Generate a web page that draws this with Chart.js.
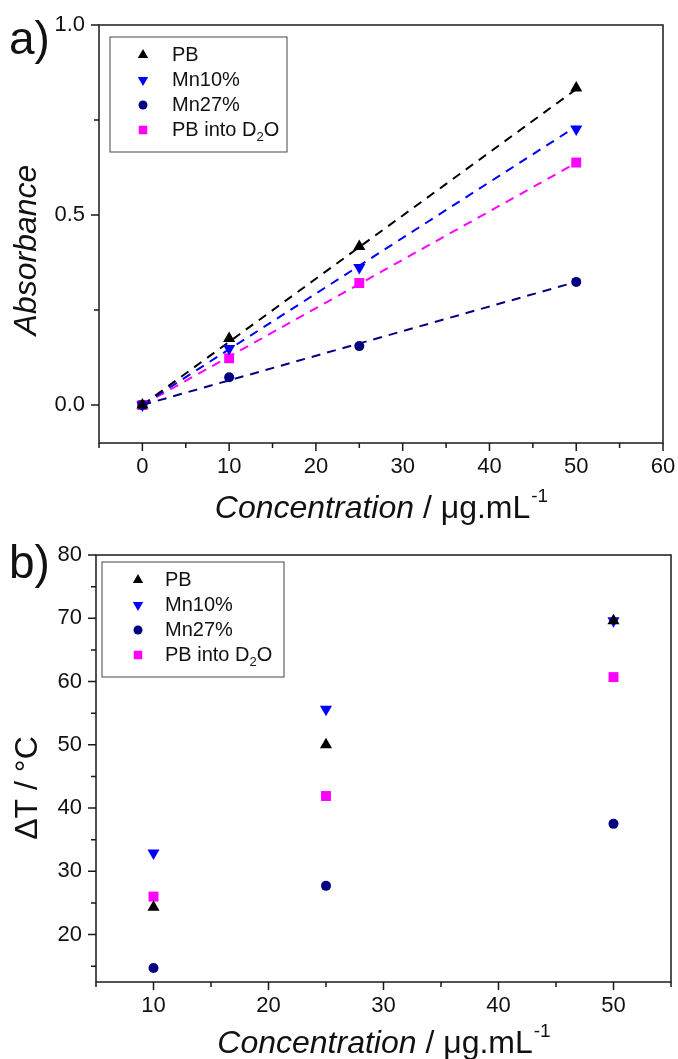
<!DOCTYPE html>
<html>
<head>
<meta charset="utf-8">
<script src="https://cdn.jsdelivr.net/npm/chart.js@4.4.0/dist/chart.umd.min.js"></script>
<style>
  body { margin: 0; background: #fff; }
  canvas { display: block; }
</style>
</head>
<body>
<canvas id="chartA" width="678" height="530"></canvas>
<canvas id="chartB" width="678" height="529"></canvas>
<script>
// ---- data ----
const seriesNames = ['PB', 'Mn10%', 'Mn27%', 'PB into D2O'];

// a) absorbance vs concentration
const concA = [0, 10, 25, 50];
const absPB = [0, 0.175, 0.417, 0.834];
const absMn10 = [0, 0.149, 0.362, 0.726];
const absMn27 = [0, 0.073, 0.155, 0.324];
const absD2O = [0, 0.123, 0.321, 0.638];

// dashed linear fits (end points)
const fitX = [0, 50];
const fitPB = [0, 0.831];
const fitMn10 = [0, 0.733];
const fitMn27 = [0, 0.324];
const fitD2O = [0, 0.637];

// b) temperature rise vs concentration
const concB = [10, 25, 50];
const dtPB = [24.3, 50.0, 69.6];
const dtMn10 = [32.9, 55.6, 69.6];
const dtMn27 = [14.7, 27.7, 37.5];
const dtD2O = [26.0, 41.9, 60.7];

// tick values (majors get labels, the rest are minor ticks)
const xTicksA = [-5, 0, 5, 10, 15, 20, 25, 30, 35, 40, 45, 50, 55, 60];
const yTicksA = [0, 0.25, 0.5, 0.75, 1.0];
const xTicksB = [5, 10, 15, 20, 25, 30, 35, 40, 45, 50, 55];
const yTicksB = [15, 20, 25, 30, 35, 40, 45, 50, 55, 60, 65, 70, 75, 80];

const colors = ['#000000', '#0000ff', '#000080', '#ff00ff'];
const styles = [
  { pointStyle: 'triangle', rotation: 0, radius: 7 },
  { pointStyle: 'triangle', rotation: 180, radius: 7 },
  { pointStyle: 'circle', rotation: 0, radius: 5 },
  { pointStyle: 'rect', rotation: 0, radius: 7 }
];
const FONT = '"Liberation Sans", Arial, sans-serif';

function pts(xs, ys) {
  return xs.map((x, i) => ({ x: x, y: ys[i] }));
}

function scatterSet(i, xs, ys) {
  return {
    label: seriesNames[i],
    data: pts(xs, ys),
    showLine: false,
    pointStyle: styles[i].pointStyle,
    rotation: styles[i].rotation,
    pointRadius: styles[i].radius,
    pointHoverRadius: styles[i].radius,
    backgroundColor: colors[i],
    borderColor: colors[i],
    borderWidth: 0,
    order: 1
  };
}

function fitSet(i, ys) {
  return {
    label: seriesNames[i] + ' fit',
    data: pts(fitX, ys),
    showLine: true,
    borderColor: colors[i],
    borderWidth: 2,
    borderDash: [9, 7],
    pointRadius: 0,
    fill: false,
    order: 2
  };
}

// frame, small/large ticks, titles and legend
const decor = {
  id: 'decor',
  afterDraw(chart, args, o) {
    const ctx = chart.ctx, a = chart.chartArea;
    const xs = chart.scales.x, ys = chart.scales.y;
    ctx.save();
    ctx.strokeStyle = '#1a1a1a';
    ctx.lineWidth = 1.5;
    ctx.strokeRect(a.left, a.top, a.right - a.left, a.bottom - a.top);
    ctx.beginPath();
    xs.ticks.forEach(t => {
      const p = xs.getPixelForValue(t.value);
      ctx.moveTo(p, a.bottom);
      ctx.lineTo(p, a.bottom + (t.label !== '' ? 8 : 5));
    });
    ys.ticks.forEach(t => {
      const p = ys.getPixelForValue(t.value);
      ctx.moveTo(a.left, p);
      ctx.lineTo(a.left - (t.label !== '' ? 8 : 5), p);
    });
    ctx.stroke();

    ctx.fillStyle = '#111';
    ctx.textBaseline = 'alphabetic';
    // panel letter
    ctx.textAlign = 'left';
    ctx.font = '46px ' + FONT;
    ctx.fillText(o.panel, 9, o.panelY);

    // y title
    ctx.save();
    ctx.translate(o.yTitleX, o.yTitleY);
    ctx.rotate(-Math.PI / 2);
    ctx.textAlign = 'center';
    ctx.font = (o.yItalic ? 'italic ' : '') + '32px ' + FONT;
    ctx.fillText(o.yTitle, 0, 0);
    ctx.restore();

    // x title: italic part, normal part, superscript
    const p1 = 'Concentration', p2 = ' / \u03bcg.mL', p3 = '-1';
    ctx.font = 'italic 32px ' + FONT;
    const w1 = ctx.measureText(p1).width;
    ctx.font = '32px ' + FONT;
    const w2 = ctx.measureText(p2).width;
    ctx.font = '19px ' + FONT;
    const w3 = ctx.measureText(p3).width;
    let x0 = (a.left + a.right) / 2 - (w1 + w2 + w3) / 2;
    ctx.textAlign = 'left';
    ctx.font = 'italic 32px ' + FONT;
    ctx.fillText(p1, x0, o.xTitleY);
    ctx.font = '32px ' + FONT;
    ctx.fillText(p2, x0 + w1, o.xTitleY);
    ctx.font = '19px ' + FONT;
    ctx.fillText(p3, x0 + w1 + w2 + 1, o.xTitleY - 16);

    // legend
    const L = o.legend;
    ctx.lineWidth = 1;
    ctx.strokeStyle = '#444';
    ctx.strokeRect(L.x, L.y, L.w, L.h);
    ctx.textBaseline = 'middle';
    seriesNames.forEach((name, i) => {
      const cy = L.y + L.first + i * L.step;
      ctx.fillStyle = colors[i];
      ctx.strokeStyle = colors[i];
      Chart.helpers.drawPoint(ctx, {
        pointStyle: styles[i].pointStyle,
        rotation: styles[i].rotation,
        radius: styles[i].pointStyle === 'circle' ? 4.5 : 6,
        borderWidth: 0
      }, L.x + L.sym, cy);
      ctx.fillStyle = '#111';
      ctx.font = '20px ' + FONT;
      if (name === 'PB into D2O') {
        const a1 = 'PB into D';
        const wa = ctx.measureText(a1).width;
        ctx.fillText(a1, L.x + L.text, cy);
        ctx.font = '13px ' + FONT;
        ctx.fillText('2', L.x + L.text + wa, cy + 7);
        const wb = ctx.measureText('2').width;
        ctx.font = '20px ' + FONT;
        ctx.fillText('O', L.x + L.text + wa + wb, cy);
      } else {
        ctx.fillText(name, L.x + L.text, cy);
      }
    });
    ctx.restore();
  }
};

function axes(xMin, xMax, xTicks, xMajor, yMin, yMax, yTicks, yLabel, yWidth, xHeight) {
  const tickFont = { family: FONT, size: 22 };
  return {
    x: {
      type: 'linear',
      min: xMin,
      max: xMax,
      afterBuildTicks: s => { s.ticks = xTicks.map(v => ({ value: v })); },
      afterFit: s => {
        s.height = xHeight;
        s.paddingLeft = 0;
        s.paddingRight = 0;
      },
      grid: { display: false, drawTicks: false },
      border: { display: false },
      ticks: {
        font: tickFont,
        color: '#111',
        padding: 11,
        maxRotation: 0,
        autoSkip: false,
        callback: v => (v % xMajor === 0 ? String(v) : '')
      }
    },
    y: {
      type: 'linear',
      min: yMin,
      max: yMax,
      afterBuildTicks: s => { s.ticks = yTicks.map(v => ({ value: v })); },
      afterFit: s => {
        s.width = yWidth;
        s.paddingTop = 0;
        s.paddingBottom = 0;
      },
      grid: { display: false, drawTicks: false },
      border: { display: false },
      ticks: {
        font: tickFont,
        color: '#111',
        padding: 14,
        autoSkip: false,
        callback: yLabel
      }
    }
  };
}

new Chart(document.getElementById('chartA'), {
  type: 'scatter',
  data: {
    datasets: [
      scatterSet(0, concA, absPB),
      scatterSet(1, concA, absMn10),
      scatterSet(2, concA, absMn27),
      scatterSet(3, concA, absD2O),
      fitSet(0, fitPB),
      fitSet(1, fitMn10),
      fitSet(2, fitMn27),
      fitSet(3, fitD2O)
    ]
  },
  options: {
    responsive: false,
    animation: false,
    layout: { padding: { top: 25, right: 15, left: 0, bottom: 0 } },
    scales: axes(-5, 60, xTicksA, 10, -0.1, 1.0, yTicksA,
      v => (Math.abs(v * 2 - Math.round(v * 2)) < 1e-9 ? v.toFixed(1) : ''), 99, 87),
    plugins: {
      legend: { display: false },
      tooltip: { enabled: false },
      decor: {
        panel: 'a)', panelY: 54,
        yTitle: 'Absorbance', yItalic: true, yTitleX: 36, yTitleY: 250,
        xTitleY: 518,
        legend: { x: 110, y: 37, w: 177, h: 115, first: 18, step: 25, sym: 33, text: 62 }
      }
    }
  },
  plugins: [decor]
});

new Chart(document.getElementById('chartB'), {
  type: 'scatter',
  data: {
    datasets: [
      scatterSet(0, concB, dtPB),
      scatterSet(1, concB, dtMn10),
      scatterSet(2, concB, dtMn27),
      scatterSet(3, concB, dtD2O)
    ]
  },
  options: {
    responsive: false,
    animation: false,
    layout: { padding: { top: 25, right: 4, left: 0, bottom: 0 } },
    scales: axes(5, 55, xTicksB, 10, 12.5, 80, yTicksB,
      v => (v % 10 === 0 ? String(v) : ''), 96, 77),
    plugins: {
      legend: { display: false },
      tooltip: { enabled: false },
      decor: {
        panel: 'b)', panelY: 48,
        yTitle: '\u0394T / \u00b0C', yItalic: false, yTitleX: 37, yTitleY: 258,
        xTitleY: 523,
        legend: { x: 102, y: 32, w: 182, h: 115, first: 18, step: 25, sym: 36, text: 63 }
      }
    }
  },
  plugins: [decor]
});
</script>
</body>
</html>
